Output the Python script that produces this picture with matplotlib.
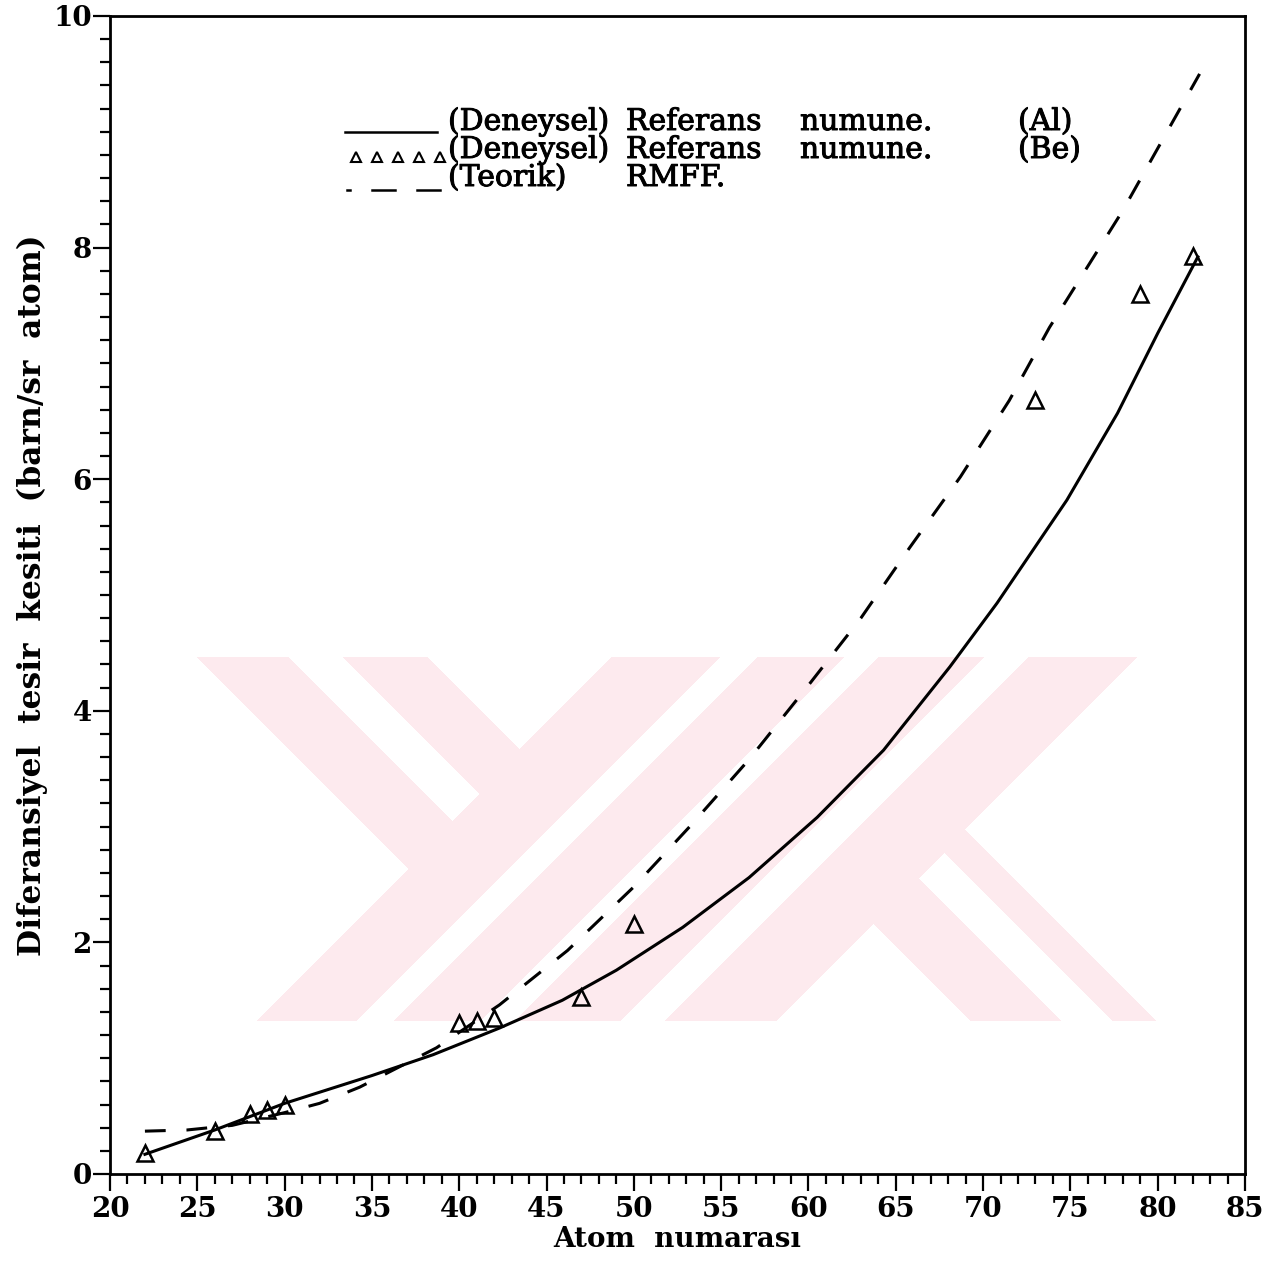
import numpy as np
import matplotlib
matplotlib.use("Agg")
import matplotlib.pyplot as plt
import matplotlib.patheffects as pe
from matplotlib.lines import Line2D
from matplotlib.ticker import MultipleLocator

# Referans numune (Al) - deneysel, sürekli eğri
z_al = [22, 26, 30, 35, 38.5, 42.3, 45.9, 49, 52.8, 56.6, 60.5, 64.3, 68.1, 70.8, 74.8, 77.7, 80.0, 82.3]
s_al = [0.17, 0.38, 0.61, 0.85, 1.03, 1.26, 1.50, 1.76, 2.13, 2.56, 3.08, 3.66, 4.38, 4.93, 5.82, 6.57, 7.26, 7.92]

# Referans numune (Be) - deneysel noktalar
z_be = [22, 26, 28, 29, 30, 40, 41, 42, 47, 50, 73, 79, 82]
s_be = [0.18, 0.37, 0.52, 0.55, 0.60, 1.30, 1.32, 1.35, 1.53, 2.16, 6.68, 7.60, 7.93]

# Teorik RMFF - kesikli eğri
z_th = [22, 24.4, 27, 30, 32, 34.3, 38.7, 42.3, 46.2, 50, 53.2, 56.6, 60.1, 63.0, 65.8, 68.7, 71.5, 73.8, 78.0, 82.4]
s_th = [0.37, 0.38, 0.42, 0.53, 0.61, 0.75, 1.09, 1.46, 1.93, 2.48, 3.00, 3.58, 4.24, 4.80, 5.41, 6.02, 6.68, 7.31, 8.32, 9.50]

legend_rows = [
    ["(Deneysel)", "Referans", "numune.", "(Al)"],
    ["(Deneysel)", "Referans", "numune.", "(Be)"],
    ["(Teorik)", "RMFF."],
]

W, H = 1276, 1265
FONT = "DejaVu Serif"


def px(x, y):
    return x / W, 1 - y / H


fig = plt.figure(figsize=(W / 100, H / 100), dpi=100)

# faint pink watermark behind the plot
wm = fig.add_axes([0, 0, 1, 1], zorder=0)
yy, xx = np.mgrid[0:H, 0:W]
u = xx + yy
v = xx - yy
pink = (yy >= 657) & (yy <= 1020) & ((v >= -460) | (u >= 1277))
pink &= ~((v > -369) & (v < -314) & (u < 1273))
pink &= ~((v > -230) & (u < 1268))
pink &= ~((u > 1376) & (u < 1414))
pink &= ~((u > 1500) & (u < 1535))
pink &= ~((u > 1640) & (u < 1685))
pink &= ~((u > 1796) & (v < -50))
pink &= ~((u > 1796) & (v > 40) & (v < 92))
pink &= ~((u > 1793) & (v > 135))
img = np.ones((H, W, 3))
img[pink] = np.array([253, 234, 238]) / 255
wm.imshow(img, aspect="auto", interpolation="nearest")
wm.axis("off")

ax = fig.add_axes([110 / W, (H - 1174) / H, 1135 / W, 1158 / H], zorder=1)
ax.set_facecolor("none")

ax.plot(z_al, s_al, color="black", lw=2.2)
ax.plot(z_th, s_th, color="black", lw=2.2, dashes=(6.8, 6.8))
ax.plot(z_be, s_be, linestyle="none", marker="^", ms=12, mfc="none",
        mec="black", mew=1.8)

ax.set_xlim(20, 85)
ax.set_ylim(0, 10)
ax.xaxis.set_major_locator(MultipleLocator(5))
ax.xaxis.set_minor_locator(MultipleLocator(1))
ax.yaxis.set_major_locator(MultipleLocator(2))
ax.yaxis.set_minor_locator(MultipleLocator(0.2))
ax.tick_params(which="both", direction="out", top=False, right=False, width=1.6)
ax.tick_params(which="major", length=12, labelsize=20, pad=4)
ax.tick_params(which="minor", length=7)
ax.tick_params(axis="y", which="major", pad=1)
for lab in ax.get_xticklabels() + ax.get_yticklabels():
    lab.set_fontfamily(FONT)
    lab.set_fontweight("bold")
for sp in ax.spines.values():
    sp.set_linewidth(2)

ax.set_xlabel("Atom  numarası", fontsize=20, family=FONT, fontweight="bold", labelpad=2)
ax.set_ylabel("Diferansiyel  tesir  kesiti  (barn/sr  atom)", fontsize=22.5,
              family=FONT, fontweight="bold", labelpad=4)

# hand drawn legend
heavy = [pe.withStroke(linewidth=0.7, foreground="black")]
cols = [448, 626, 800, 1018]
for y, words in zip([130, 158, 186], legend_rows):
    for x, w in zip(cols, words):
        fig.text(*px(x, y), w, fontsize=21.5, family=FONT, va="baseline",
                 ha="left", path_effects=heavy)

x0, y0 = px(345, 132)
x1, _ = px(437, 132)
fig.add_artist(Line2D([x0, x1], [y0, y0], color="black", lw=1.8))
tx = [px(x, 157)[0] for x in (356, 377, 398, 419, 440)]
fig.add_artist(Line2D(tx, [px(0, 157)[1]] * 5, linestyle="none", marker="^",
                      ms=7, mfc="none", mec="black", mew=1.5))
for a, b in [(347, 350), (372, 395), (417, 440)]:
    fig.add_artist(Line2D([px(a, 0)[0], px(b, 0)[0]], [px(0, 190)[1]] * 2,
                          color="black", lw=1.8))

fig.savefig("out.png", dpi=100)
